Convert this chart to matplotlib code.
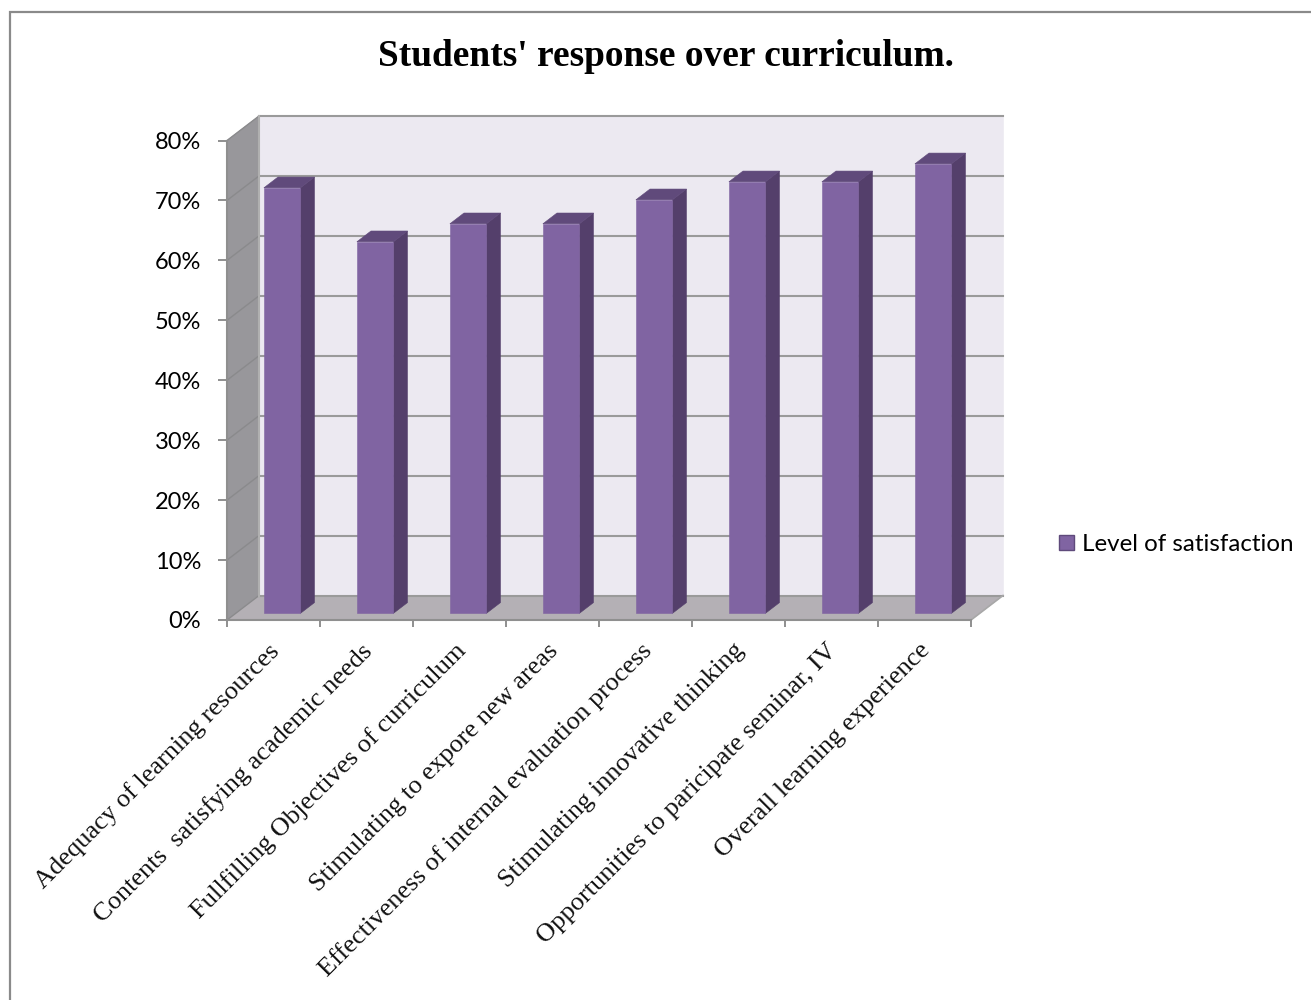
import matplotlib
matplotlib.use('Agg')
import matplotlib.pyplot as plt
from matplotlib.patches import Polygon, Patch
from matplotlib.lines import Line2D
from matplotlib.transforms import ScaledTranslation

# values
categories = ['Adequacy of learning resources', 'Contents  satisfying academic needs',
              'Fullfilling Objectives of curriculum', 'Stimulating to expore new areas',
              'Effectiveness of internal evaluation process', 'Stimulating innovative thinking',
              'Opportunities to paricipate seminar, IV', 'Overall learning experience']
satisfaction = [71, 62, 65, 65, 69, 72, 72, 75]
y_ticks = [0, 10, 20, 30, 40, 50, 60, 70, 80]

W, H = 1311, 1000
x0, x1 = 227, 971
y0, y80 = 620, 140.5
dx_px, dy_px = 32, 24.5

BAR_FRONT = '#8064a2'
BAR_SIDE = '#543f6b'
BAR_TOP = '#604a7b'

fig = plt.figure(figsize=(W / 100, H / 100), dpi=100)
ax = fig.add_axes([x0 / W, 1 - y0 / H, (x1 - x0) / W, (y0 - y80) / H])
n = len(categories)
ax.set_xlim(0, n)
ax.set_ylim(0, 80)

px_x = (x1 - x0) / n
px_y = (y0 - y80) / 80


# depth goes 0 (front) to 1 (back wall)
def proj(x, y, d):
    return (x + d * dx_px / px_x, y + d * dy_px / px_y)


def face(pts, color, z, edge=None):
    ax.add_patch(Polygon([proj(*p) for p in pts], closed=True, facecolor=color,
                         edgecolor=edge or color, linewidth=0.4, zorder=z, clip_on=False))


# walls
face([(0, 0, 1), (n, 0, 1), (n, 80, 1), (0, 80, 1)], '#ece9f1', 1)
face([(0, 0, 0), (0, 0, 1), (0, 80, 1), (0, 80, 0)], '#98979b', 1)
face([(0, 0, 0), (n, 0, 0), (n, 0, 1), (0, 0, 1)], '#b4b0b5', 1)

# gridlines
for v in y_ticks:
    xs, ys = zip(proj(0, v, 0), proj(0, v, 1))
    ax.plot(xs, ys, color='#8a8a8c', lw=1.0, zorder=2, clip_on=False)
    xs, ys = zip(proj(0, v, 1), proj(n, v, 1))
    ax.plot(xs, ys, color='#9a9a9a', lw=1.5, zorder=2, clip_on=False)
xs, ys = zip(proj(0, 0, 1), proj(0, 80, 1))
ax.plot(xs, ys, color='#b0b0b0', lw=1.5, zorder=2, clip_on=False)
xs, ys = zip(proj(n, 0, 0), proj(n, 0, 1))
ax.plot(xs, ys, color='#a8a8a8', lw=1.2, zorder=2, clip_on=False)

# bars, front face sits a bit behind the front edge
bar_w = 36.5 / px_x
d_a, d_b = 0.27, 0.71
for i, v in enumerate(satisfaction):
    left = i + 0.5 - bar_w / 2
    right = left + bar_w
    face([(right, 0, d_a), (right, 0, d_b), (right, v, d_b), (right, v, d_a)], BAR_SIDE, 3 + i)
    face([(left, v, d_a), (right, v, d_a), (right, v, d_b), (left, v, d_b)], BAR_TOP, 3 + i)
    face([(left, 0, d_a), (right, 0, d_a), (right, v, d_a), (left, v, d_a)], BAR_FRONT, 3 + i)

for s in ['top', 'right']:
    ax.spines[s].set_visible(False)
for s in ['left', 'bottom']:
    ax.spines[s].set_color('#8f8f8f')
    ax.spines[s].set_linewidth(1.5)
    ax.spines[s].set_zorder(2.5)

ax.set_yticks(y_ticks)
ax.set_yticklabels([f'{v}%' for v in y_ticks], fontfamily='Lato', fontsize=17, color='black')
ax.tick_params(axis='y', length=6.5, width=1.4, color='#8f8f8f', pad=12)
ax.set_xticks(range(n + 1))
ax.set_xticklabels([])
ax.tick_params(axis='x', which='major', length=5, width=1.4, color='#8f8f8f')
ax.set_xticks([i + 0.5 for i in range(n)], minor=True)
ax.set_xticklabels(categories, minor=True, rotation=45, ha='right', va='top', rotation_mode='anchor',
                   fontfamily='Liberation Serif', fontsize=19, color='#111111')
ax.tick_params(axis='x', which='minor', length=0, pad=14)
# labels end a little left of the category centre
shift = ScaledTranslation(-5.5 / 100, 0, fig.dpi_scale_trans)
for lab in ax.get_xticklabels(minor=True):
    lab.set_transform(lab.get_transform() + shift)

fig.text(666 / W, 1 - 57 / H, "Students' response over curriculum.", ha='center', va='center',
         fontfamily='Liberation Serif', fontweight='bold', fontsize=26.9)

# legend
leg = ax.legend(handles=[Patch(facecolor=BAR_FRONT, edgecolor='#5f4a7b', label='Level of satisfaction')],
                loc='center left', bbox_to_anchor=(1059 / W, 1 - 544.5 / H), bbox_transform=fig.transFigure,
                frameon=False, handlelength=0.62, handleheight=0.62, handletextpad=0.32, borderpad=0, borderaxespad=0,
                prop={'family': 'Lato', 'size': 17.4})

# chart frame, only left and top show in the crop
frame = Line2D([10 / W, 10 / W, 1], [0, 1 - 11.5 / H, 1 - 11.5 / H], transform=fig.transFigure,
               color='#8a8a8a', linewidth=1.6, solid_joinstyle='miter')
fig.add_artist(frame)

fig.savefig('out.png', dpi=100)
